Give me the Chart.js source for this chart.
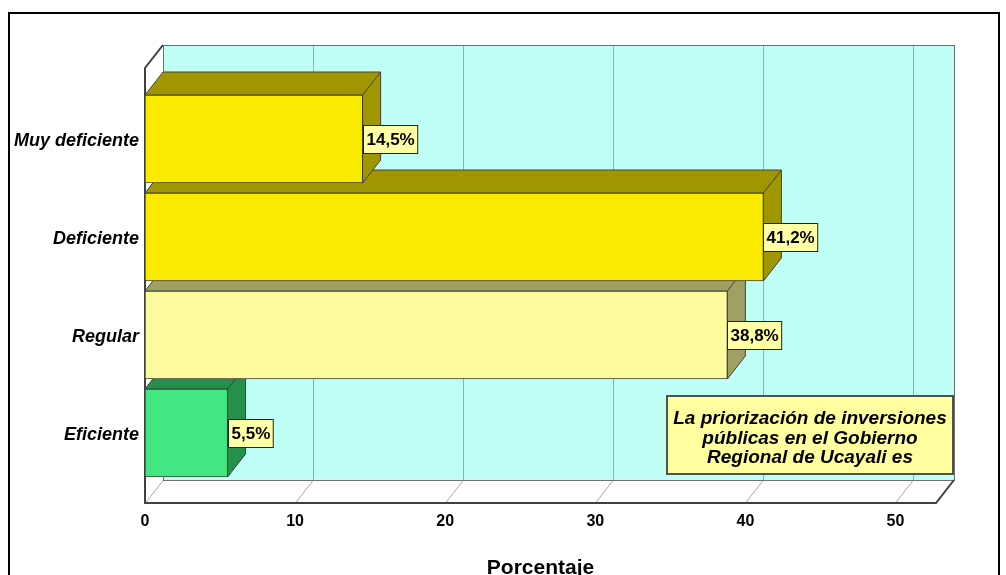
<!DOCTYPE html>
<html>
<head>
    <title>Priorizacion de inversiones</title>
    <script src="https://cdn.jsdelivr.net/npm/chart.js"></script>
    <style>
        html, body { margin: 0; padding: 0; background: #fff; overflow: hidden; }
        #wrap { position: relative; width: 1006px; height: 600px; }
    </style>
</head>
<body>
    <div id="wrap"><canvas id="plot"></canvas></div>

    <script>
        // data
        const categories = ['Muy deficiente', 'Deficiente', 'Regular', 'Eficiente'];
        const percentages = [14.5, 41.2, 38.8, 5.5];
        const xTicks = [0, 10, 20, 30, 40, 50];
        const legendLines = ['La priorización de inversiones', 'públicas en el Gobierno', 'Regional de Ucayali es'];

        const frontColors = ['#f9ea00', '#f9ea00', '#fbfb9e', '#41e780'];
        const depthColors = ['#a09700', '#a09700', '#a0a064', '#24904c'];
        const DX = 18, DY = 23;

        const threeD = {
            id: 'threeD',
            beforeDatasetsDraw(chart) {
                const { ctx, chartArea: a, scales: { x } } = chart;
                const ft = a.top - 22, fb = a.bottom + 21;
                const bt = ft - DY, bb = fb - DY;
                ctx.save();
                // back wall
                ctx.fillStyle = '#bffff6';
                ctx.fillRect(a.left + DX, bt, a.right - a.left, bb - bt);
                // grid on wall and floor
                ctx.strokeStyle = '#a8a8a8';
                ctx.lineWidth = 1;
                xTicks.forEach(v => {
                    const px = Math.round(x.getPixelForValue(v)) + 0.5;
                    ctx.beginPath();
                    ctx.moveTo(px + DX, bt); ctx.lineTo(px + DX, bb);
                    ctx.moveTo(px, fb); ctx.lineTo(px + DX, bb);
                    ctx.stroke();
                });
                ctx.strokeStyle = '#707070';
                ctx.strokeRect(a.left + DX + 0.5, bt + 0.5, a.right - a.left, bb - bt);
                // floor and left side outlines
                ctx.strokeStyle = '#404040';
                ctx.lineWidth = 2;
                ctx.beginPath();
                ctx.moveTo(a.left + DX, bt); ctx.lineTo(a.left, ft);
                ctx.lineTo(a.left, fb); ctx.lineTo(a.right, fb);
                ctx.lineTo(a.right + DX, bb);
                ctx.stroke();

                // depth faces of the bars, bottom bar first
                const meta = chart.getDatasetMeta(0);
                ctx.lineWidth = 1;
                ctx.strokeStyle = '#404040';
                for (let i = meta.data.length - 1; i >= 0; i--) {
                    const el = meta.data[i];
                    const top = el.y - el.height / 2, bot = el.y + el.height / 2;
                    ctx.fillStyle = depthColors[i];
                    ctx.beginPath();
                    ctx.moveTo(el.base, top);
                    ctx.lineTo(el.base + DX, top - DY);
                    ctx.lineTo(el.x + DX, top - DY);
                    ctx.lineTo(el.x + DX, bot - DY);
                    ctx.lineTo(el.x, bot);
                    ctx.lineTo(el.x, top);
                    ctx.closePath();
                    ctx.fill();
                    ctx.stroke();
                    ctx.beginPath();
                    ctx.moveTo(el.x, top); ctx.lineTo(el.x + DX, top - DY);
                    ctx.stroke();
                }
                ctx.restore();
            },
            afterDatasetsDraw(chart) {
                const { ctx } = chart;
                const meta = chart.getDatasetMeta(0);
                ctx.save();
                ctx.font = 'bold 17px "Liberation Sans Narrow", "Liberation Sans", Arial, sans-serif';
                ctx.textBaseline = 'middle';
                ctx.textAlign = 'left';
                meta.data.forEach((el, i) => {
                    const txt = percentages[i].toFixed(1).replace('.', ',') + '%';
                    const w = ctx.measureText(txt).width + 6;
                    const bx = Math.round(el.x) + 0.5, by = Math.round(el.y - 14) + 0.5;
                    ctx.fillStyle = '#ffffa6';
                    ctx.fillRect(bx, by, w, 28);
                    ctx.strokeStyle = '#202020';
                    ctx.lineWidth = 1;
                    ctx.strokeRect(bx, by, w, 28);
                    ctx.fillStyle = '#000';
                    ctx.fillText(txt, bx + 3, el.y + 1);
                });
                ctx.restore();
            },
            afterDraw(chart) {
                const { ctx } = chart;
                ctx.save();
                // legend note box
                ctx.fillStyle = '#ffff9f';
                ctx.fillRect(667, 396, 286, 78);
                ctx.strokeStyle = '#505050';
                ctx.lineWidth = 2;
                ctx.strokeRect(667, 396, 286, 78);
                ctx.fillStyle = '#000';
                ctx.font = 'italic bold 19px "Liberation Sans", Arial, sans-serif';
                ctx.textAlign = 'center';
                ctx.textBaseline = 'middle';
                legendLines.forEach((t, i) => ctx.fillText(t, 810, 419 + i * 19.5));
                // outer frame
                ctx.strokeStyle = '#000';
                ctx.lineWidth = 2;
                ctx.strokeRect(9, 13, 990, 700);
                ctx.restore();
            }
        };

        const ctx = document.getElementById('plot').getContext('2d');
        new Chart(ctx, {
            type: 'bar',
            data: {
                labels: categories,
                datasets: [{
                    data: percentages,
                    backgroundColor: frontColors,
                    borderColor: '#404040',
                    borderWidth: 1,
                    borderSkipped: false,
                    barThickness: 88
                }]
            },
            options: {
                indexAxis: 'y',
                responsive: true,
                maintainAspectRatio: false,
                animation: false,
                layout: { padding: { top: 90, right: 70, left: 0, bottom: 0 } },
                plugins: { legend: { display: false }, tooltip: { enabled: false } },
                scales: {
                    x: {
                        min: 0,
                        max: 52.7,
                        afterBuildTicks: s => { s.ticks = xTicks.map(v => ({ value: v })); },
                        afterFit: s => { s.height = 118; },
                        grid: { display: false, drawTicks: false },
                        border: { display: false },
                        ticks: {
                            padding: 30,
                            color: '#000',
                            font: { family: '"Liberation Sans", Arial', size: 16, weight: 'bold' }
                        },
                        title: {
                            display: true,
                            text: 'Porcentaje',
                            color: '#000',
                            padding: { top: 0, bottom: 19 },
                            font: { family: '"Liberation Sans", Arial', size: 21, weight: 'bold' }
                        }
                    },
                    y: {
                        afterFit: s => { s.width = 145; },
                        grid: { display: false, drawTicks: false },
                        border: { display: false },
                        ticks: {
                            padding: 6,
                            labelOffset: 2,
                            color: '#000',
                            font: { family: '"Liberation Sans", Arial', size: 18, weight: 'bold', style: 'italic' }
                        }
                    }
                }
            },
            plugins: [threeD]
        });
    </script>
</body>
</html>
